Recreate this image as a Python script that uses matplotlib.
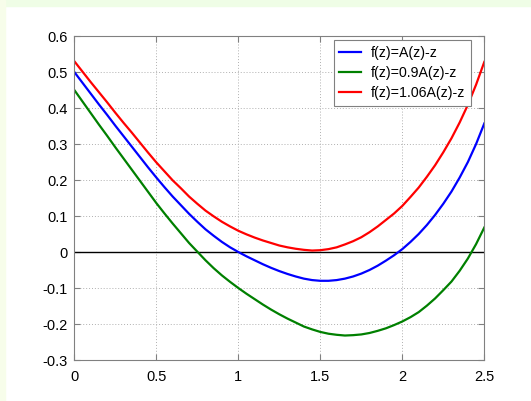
import matplotlib
matplotlib.use("Agg")
import matplotlib.pyplot as plt
from matplotlib.patches import Rectangle

plt.rcParams["font.family"] = ["Liberation Sans", "DejaVu Sans"]

# sample positions along z, read every 0.05
z = [0.00, 0.05, 0.10, 0.15, 0.20, 0.25, 0.30, 0.35, 0.40, 0.45,
     0.50, 0.55, 0.60, 0.65, 0.70, 0.75, 0.80, 0.85, 0.90, 0.95,
     1.00, 1.05, 1.10, 1.15, 1.20, 1.25, 1.30, 1.35, 1.40, 1.45,
     1.50, 1.55, 1.60, 1.65, 1.70, 1.75, 1.80, 1.85, 1.90, 1.95,
     2.00, 2.05, 2.10, 2.15, 2.20, 2.25, 2.30, 2.35, 2.40, 2.45, 2.50]

f_blue = [0.500, 0.470, 0.440, 0.410, 0.381, 0.351, 0.322, 0.293, 0.264, 0.235,
          0.207, 0.180, 0.154, 0.130, 0.106, 0.084, 0.063, 0.045, 0.028, 0.013,
          0.000, -0.012, -0.023, -0.034, -0.044, -0.053, -0.061, -0.068, -0.074, -0.078,
          -0.080, -0.080, -0.078, -0.074, -0.068, -0.060, -0.050, -0.038, -0.024, -0.009,
          0.008, 0.028, 0.050, 0.075, 0.103, 0.134, 0.168, 0.207, 0.250, 0.300, 0.357]
f_green = [0.450, 0.418, 0.386, 0.354, 0.323, 0.291, 0.260, 0.229, 0.198, 0.167,
           0.136, 0.107, 0.079, 0.052, 0.025, 0.001, -0.023, -0.045, -0.065, -0.083,
           -0.100, -0.116, -0.131, -0.146, -0.160, -0.173, -0.185, -0.196, -0.207, -0.215,
           -0.222, -0.227, -0.230, -0.232, -0.231, -0.229, -0.225, -0.219, -0.212, -0.203,
           -0.193, -0.181, -0.167, -0.149, -0.129, -0.106, -0.082, -0.052, -0.018, 0.022, 0.068]
f_red = [0.530, 0.501, 0.472, 0.444, 0.416, 0.387, 0.359, 0.332, 0.304, 0.276,
         0.249, 0.224, 0.199, 0.177, 0.154, 0.134, 0.115, 0.099, 0.084, 0.071,
         0.059, 0.049, 0.040, 0.032, 0.025, 0.018, 0.013, 0.009, 0.006, 0.004,
         0.005, 0.008, 0.013, 0.021, 0.030, 0.041, 0.055, 0.071, 0.089, 0.107,
         0.128, 0.153, 0.179, 0.209, 0.241, 0.277, 0.316, 0.360, 0.409, 0.465, 0.528]

labels = ["f(z)=A(z)-z", "f(z)=0.9A(z)-z", "f(z)=1.06A(z)-z"]
colors = ["#0000ff", "#008000", "#ff0000"]

xticks = [0, 0.5, 1, 1.5, 2, 2.5]
xticklabels = ["0", "0.5", "1", "1.5", "2", "2.5"]
yticks = [-0.3, -0.2, -0.1, 0, 0.1, 0.2, 0.3, 0.4, 0.5, 0.6]
yticklabels = ["-0.3", "-0.2", "-0.1", "0", "0.1", "0.2", "0.3", "0.4",
               "0.5", "0.6"]

fig = plt.figure(figsize=(5.31, 4.01), dpi=100, facecolor="white")
# light green page border (top and left strips)
fig.patches.append(Rectangle((0, 1 - 6 / 401), 1, 6 / 401,
                             transform=fig.transFigure, color="#effde6",
                             zorder=0))
fig.patches.append(Rectangle((0, 0), 5 / 531, 1,
                             transform=fig.transFigure, color="#f7fdea",
                             zorder=0))

ax = fig.add_axes([74.3 / 531, 1 - 360 / 401, 410 / 531, 324 / 401])

for ys, lab, c in zip([f_blue, f_green, f_red], labels, colors):
    ax.plot(z, ys, color=c, lw=1.6, label=lab)
ax.axhline(0, color="black", lw=1.0, zorder=1.8)

ax.set_xlim(0, 2.5)
ax.set_ylim(-0.3, 0.6)
ax.set_xticks(xticks)
ax.set_xticklabels(xticklabels)
ax.set_yticks(yticks)
ax.set_yticklabels(yticklabels)
ax.grid(True, color="#b0b0b0", ls=(0, (1, 2)), lw=0.7)
ax.tick_params(direction="in", length=4, color="#808080", labelsize=10.5,
               top=True, right=True)
ax.tick_params(axis="x", pad=7)
ax.tick_params(axis="y", pad=5)
for s in ax.spines.values():
    s.set_color("#808080")
    s.set_linewidth(0.8)

leg = ax.legend(loc="upper right", bbox_to_anchor=(0.968, 0.988),
                fontsize=10.2, fancybox=False, framealpha=1,
                edgecolor="#808080", handlelength=1.5, handletextpad=0.75,
                borderpad=0.4, labelspacing=0.45, borderaxespad=0)
leg.get_frame().set_linewidth(0.8)

fig.savefig("out.png", dpi=100, facecolor=fig.get_facecolor())
